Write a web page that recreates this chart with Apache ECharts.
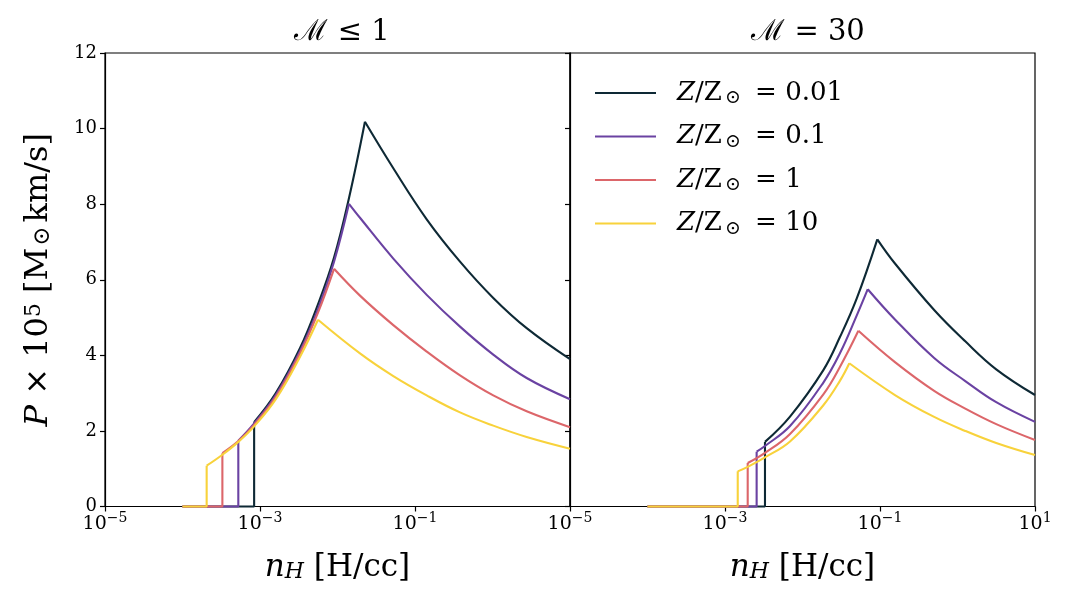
<!DOCTYPE html>
<html>
<head>
<meta charset="utf-8">
<script src="https://cdn.jsdelivr.net/npm/echarts@6/dist/echarts.min.js"></script>
<style>
html,body{margin:0;padding:0;background:#fff;}
#chart{width:1074px;height:603px;}
</style>
</head>
<body>
<div id="chart"></div>
<script>
// ---- data ----
const zLabels = ['0.01', '0.1', '1', '10'];
const lineColors = ['#0e2935', '#6a42a2', '#dc666a', '#f8d23b'];
const panelTitles = ['ℳ ≤ 1', 'ℳ = 30'];
const startX = 1e-4;

// Left panel (M <= 1): jump position, rising branch, decaying branch  [nH, P]
const leftJumpX = [8.4e-4, 5.25e-4, 3.27e-4, 2.05e-4];
const leftRise001 = [[8.4e-4, 2.23], [1.6e-3, 3.0], [3.3e-3, 4.2], [5.6e-3, 5.35], [9.0e-3, 6.58], [0.0141, 8.17], [0.0226, 10.18]];
const leftRise01  = [[5.25e-4, 1.74], [8.4e-4, 2.2], [1.6e-3, 2.95], [3.3e-3, 4.12], [5.6e-3, 5.22], [9.0e-3, 6.47], [0.01406, 8.01]];
const leftRise1   = [[3.27e-4, 1.41], [5.25e-4, 1.73], [8.4e-4, 2.16], [1.6e-3, 2.9], [3.3e-3, 4.06], [5.6e-3, 5.13], [9.02e-3, 6.29]];
const leftRise10  = [[2.05e-4, 1.08], [3.27e-4, 1.37], [5.25e-4, 1.71], [8.4e-4, 2.12], [1.6e-3, 2.84], [3.3e-3, 3.97], [5.6e-3, 4.94]];
const leftDecay001 = [[0.0226, 10.18], [0.0525, 8.95], [0.1416, 7.6], [0.381, 6.48], [1.023, 5.52], [2.76, 4.72], [10, 3.9]];
const leftDecay01  = [[0.01406, 8.01], [0.0195, 7.64], [0.0525, 6.56], [0.1416, 5.6], [0.381, 4.76], [1.023, 4.02], [2.76, 3.4], [10, 2.84]];
const leftDecay1   = [[9.02e-3, 6.29], [0.0195, 5.58], [0.0525, 4.8], [0.1416, 4.1], [0.381, 3.47], [1.023, 2.94], [2.76, 2.52], [10, 2.1]];
const leftDecay10  = [[5.6e-3, 4.94], [0.0195, 4.05], [0.0525, 3.45], [0.1416, 2.94], [0.381, 2.49], [1.023, 2.14], [2.76, 1.84], [10, 1.53]];

// Right panel (M = 30)
const rightJumpX = [3.28e-3, 2.56e-3, 1.963e-3, 1.46e-3];
const rightRise001 = [[3.28e-3, 1.71], [6.9e-3, 2.38], [0.01858, 3.61], [0.0305, 4.49], [0.05, 5.5], [0.0923, 7.07]];
const rightRise01  = [[2.56e-3, 1.45], [3.28e-3, 1.6], [6.9e-3, 2.13], [0.01858, 3.28], [0.0305, 4.06], [0.05, 5.05], [0.0695, 5.75]];
const rightRise1   = [[1.963e-3, 1.15], [3.28e-3, 1.42], [6.9e-3, 1.92], [0.01858, 2.97], [0.0305, 3.7], [0.0526, 4.65]];
const rightRise10  = [[1.46e-3, 0.93], [1.963e-3, 1.05], [3.28e-3, 1.3], [6.9e-3, 1.72], [0.01858, 2.68], [0.0305, 3.33], [0.0402, 3.79]];
const rightDecay001 = [[0.0923, 7.07], [0.156, 6.43], [0.5, 5.2], [1.26, 4.37], [3.16, 3.63], [10, 2.95]];
const rightDecay01  = [[0.0695, 5.75], [0.156, 4.95], [0.5, 3.93], [1.26, 3.32], [3.16, 2.76], [10, 2.24]];
const rightDecay1   = [[0.0526, 4.65], [0.156, 3.82], [0.5, 3.06], [1.26, 2.59], [3.16, 2.18], [10, 1.76]];
const rightDecay10  = [[0.0402, 3.79], [0.156, 2.95], [0.5, 2.37], [1.26, 2.0], [3.16, 1.68], [10, 1.36]];

// ---- build chart ----
const panels = [
  { jump: leftJumpX, rise: [leftRise001, leftRise01, leftRise1, leftRise10], decay: [leftDecay001, leftDecay01, leftDecay1, leftDecay10] },
  { jump: rightJumpX, rise: [rightRise001, rightRise01, rightRise1, rightRise10], decay: [rightDecay001, rightDecay01, rightDecay1, rightDecay10] }
];
const names = zLabels.map(z => 'Z/Z⊙ = ' + z);
const FONT = 'DejaVu Serif';

const series = [];
panels.forEach((p, pi) => {
  zLabels.forEach((z, i) => {
    const base = {
      name: names[i], type: 'line', xAxisIndex: pi, yAxisIndex: pi,
      symbol: 'none', color: lineColors[i], lineStyle: { width: 2.1, color: lineColors[i] },
      animation: false, clip: false, z: 3
    };
    const jumpTop = p.rise[i][0][1];
    series.push(Object.assign({}, base, { data: [[startX, 0], [p.jump[i], 0], [p.jump[i], jumpTop]] }));
    series.push(Object.assign({}, base, { smooth: 0.4, data: p.rise[i] }));
    series.push(Object.assign({}, base, { smooth: 0.4, data: p.decay[i] }));
  });
});

const supRich = {
  sup: { fontSize: 14, fontFamily: FONT, color: '#000', verticalAlign: 'top', lineHeight: 14 },
};
function xFmt(v) {
  const e = Math.round(Math.log10(v));
  return '10{sup|' + (e < 0 ? '−' + (-e) : e) + '}';
}

function xAxisDef(gi, showMax) {
  return {
    type: 'log', gridIndex: gi, logBase: 10, min: 1e-5, max: 10, interval: 2,
    axisLine: { show: true, lineStyle: { color: '#000', width: 1.2 } },
    axisTick: { show: true, inside: false, length: 5, lineStyle: { color: '#000', width: 1.2 } },
    minorTick: { show: false },
    splitLine: { show: false },
    axisLabel: { show: true, showMaxLabel: showMax, margin: 5, formatter: xFmt, color: '#000',
      fontFamily: FONT, fontSize: 19, lineHeight: 26, rich: supRich },
    name: '{i|n}{sub|H} [H/cc]', nameLocation: 'middle', nameGap: 46,
    nameTextStyle: { fontFamily: FONT, fontSize: 31, color: '#000',
      rich: { i: { fontFamily: FONT, fontStyle: 'italic', fontSize: 31 },
              sub: { fontFamily: FONT, fontStyle: 'italic', fontSize: 22, verticalAlign: 'bottom', lineHeight: 22 } } }
  };
}
function yAxisDef(gi, showLabels) {
  const ax = {
    type: 'value', gridIndex: gi, min: 0, max: 12, interval: 2,
    axisLine: { show: true, lineStyle: { color: '#000', width: 1.2 } },
    axisTick: { show: true, inside: false, length: 5, lineStyle: { color: '#000', width: 1.2 } },
    splitLine: { show: false },
    axisLabel: { show: showLabels, margin: 8, color: '#000', fontFamily: FONT, fontSize: 18 }
  };
  if (showLabels) {
    ax.name = '{i|P} × 10{sup|5} [M{sub|⊙}km/s]';
    ax.nameLocation = 'middle';
    ax.nameRotate = 90;
    ax.nameGap = 50;
    ax.nameTextStyle = { fontFamily: FONT, fontSize: 32, color: '#000',
      rich: { i: { fontFamily: FONT, fontStyle: 'italic', fontSize: 32 },
              sup: { fontFamily: FONT, fontSize: 22, verticalAlign: 'top', lineHeight: 22 },
              sub: { fontFamily: FONT, fontSize: 23, verticalAlign: 'bottom', lineHeight: 23, padding: [0, 4, 0, 2] } } };
  }
  return ax;
}

const chart = echarts.init(document.getElementById('chart'), null, { renderer: 'canvas' });
chart.setOption({
  backgroundColor: '#fff',
  animation: false,
  title: panelTitles.map((t, i) => ({
    text: t, left: i === 0 ? 337 : 803, top: 13, textAlign: 'center',
    textStyle: { fontFamily: FONT, fontSize: 29, fontWeight: 'normal', color: '#000' }
  })),
  grid: [
    { left: 105, top: 53, width: 465, height: 453.5, show: true, borderColor: '#000', borderWidth: 1.2, backgroundColor: 'transparent' },
    { left: 570, top: 53, width: 465, height: 453.5, show: true, borderColor: '#000', borderWidth: 1.2, backgroundColor: 'transparent' }
  ],
  xAxis: [xAxisDef(0, false), xAxisDef(1, true)],
  yAxis: [yAxisDef(0, true), yAxisDef(1, false)],
  legend: {
    data: names, orient: 'vertical', left: 590, top: 73,
    icon: 'rect', itemWidth: 61, itemHeight: 2.2, itemGap: 13.5,
    formatter: function (name) {
      const i = names.indexOf(name);
      return '{i|Z}/Z{sub|⊙} = ' + zLabels[i];
    },
    textStyle: { fontFamily: FONT, fontSize: 26, color: '#000', padding: [0, 0, 0, 16], lineHeight: 30,
      rich: { i: { fontFamily: FONT, fontStyle: 'italic', fontSize: 26 },
              sub: { fontFamily: FONT, fontSize: 19, verticalAlign: 'bottom', lineHeight: 19, padding: [0, 6, 0, 3] } } }
  },
  series: series
});
</script>
</body>
</html>
